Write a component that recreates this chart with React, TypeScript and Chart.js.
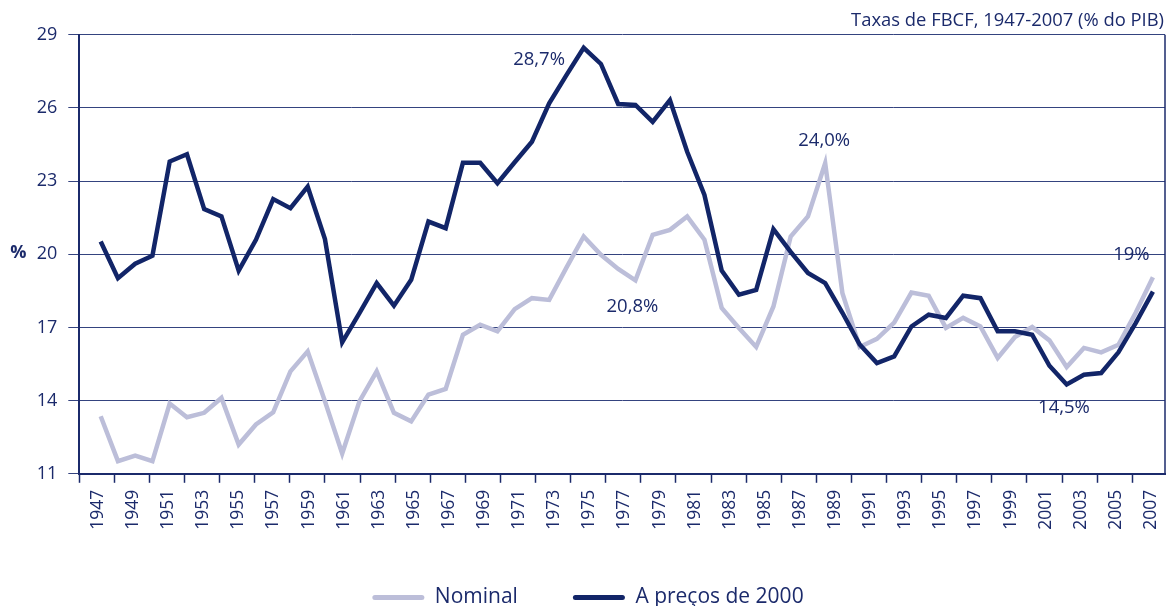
import React, { useEffect, useRef } from 'react';
import { Chart, registerables } from 'chart.js';

Chart.register(...registerables);

// ---- Data ----
const years = [
  1947, 1948, 1949, 1950, 1951, 1952, 1953, 1954, 1955, 1956,
  1957, 1958, 1959, 1960, 1961, 1962, 1963, 1964, 1965, 1966,
  1967, 1968, 1969, 1970, 1971, 1972, 1973, 1974, 1975, 1976,
  1977, 1978, 1979, 1980, 1981, 1982, 1983, 1984, 1985, 1986,
  1987, 1988, 1989, 1990, 1991, 1992, 1993, 1994, 1995, 1996,
  1997, 1998, 1999, 2000, 2001, 2002, 2003, 2004, 2005, 2006,
  2007, 2008,
];

const nominal = [
  13.36, 11.52, 11.75, 11.52, 13.88, 13.32, 13.5, 14.11, 12.2, 13.02,
  13.52, 15.2, 16.02, 13.97, 11.83, 13.97, 15.2, 13.5, 13.15, 14.25,
  14.48, 16.7, 17.11, 16.84, 17.75, 18.2, 18.13, 19.45, 20.73, 19.98,
  19.4, 18.93, 20.8, 21.0, 21.55, 20.6, 17.8, 16.98, 16.2, 17.86,
  20.73, 21.55, 23.73, 18.4, 16.2, 16.53, 17.2, 18.43, 18.3, 16.98,
  17.39, 17.04, 15.75, 16.61, 17.02, 16.47, 15.38, 16.16, 15.98, 16.29,
  17.6, 19.06,
];

const precos2000 = [
  20.52, 19.02, 19.61, 19.94, 23.8, 24.1, 21.85, 21.55, 19.33, 20.59,
  22.26, 21.89, 22.77, 20.62, 16.39, 17.59, 18.82, 17.89, 18.95, 21.34,
  21.07, 23.75, 23.75, 22.91, 23.77, 24.61, 26.19, 27.34, 28.46, 27.8,
  26.16, 26.12, 25.43, 26.32, 24.2, 22.43, 19.33, 18.34, 18.54, 21.03,
  20.1, 19.23, 18.82, 17.6, 16.3, 15.54, 15.81, 17.04, 17.52, 17.39,
  18.3, 18.2, 16.84, 16.84, 16.7, 15.43, 14.66, 15.06, 15.13, 15.98,
  17.18, 18.47,
];

const tickLabels = [
  '1947', '1949', '1951', '1953', '1955', '1957', '1959', '1961', '1963', '1965',
  '1967', '1969', '1971', '1973', '1975', '1977', '1979', '1981', '1983', '1985',
  '1987', '1989', '1991', '1993', '1995', '1997', '1999', '2001', '2003', '2005',
  '2007',
];

const yTickValues = [11, 14, 17, 20, 23, 26, 29];

const seriesNames = ['Nominal', 'A preços de 2000'];
const title = 'Taxas de FBCF, 1947-2007 (% do PIB)';
const yUnit = '%';

// annotation texts anchored to data points (series index, year)
const annotations = [
  { text: '28,7%', series: 1, year: 1975, dx: -18.7, dy: 12.2, align: 'right' },
  { text: '24,0%', series: 0, year: 1989, dx: -1, dy: -23, align: 'center' },
  { text: '20,8%', series: 0, year: 1978, dx: -3, dy: 26, align: 'center' },
  { text: '14,5%', series: 1, year: 2003, dx: -2.7, dy: 23, align: 'center' },
  { text: '19%', series: 0, year: 2008, dx: -21.5, dy: -22.4, align: 'center' },
];

// ---- Style / layout ----
const DARK = '#122568';
const LIGHT = '#bcbed9';
const TEXT = '#1b2a6b';
const GRID = '#34437f';
const AXIS = '#1b2a6b';
const FONT = '"Open Sans", "Noto Sans", sans-serif';

const X_MIN = 1945.76;
const X_MAX = 2008.7;
const TICK_STEP = 2.0348;

export default function App() {
  const canvasRef = useRef<HTMLCanvasElement>(null);

  useEffect(() => {
    const canvas = canvasRef.current;
    if (!canvas) return;
    const seriesData = [nominal, precos2000];

    const overlay = {
      id: 'overlay',
      afterDraw(chart: any) {
        const { ctx, chartArea, scales } = chart;
        ctx.save();
        // right border
        ctx.strokeStyle = AXIS;
        ctx.lineWidth = 1.5;
        ctx.beginPath();
        ctx.moveTo(chartArea.right, chartArea.top);
        ctx.lineTo(chartArea.right, chartArea.bottom);
        ctx.stroke();
        // title
        ctx.fillStyle = TEXT;
        ctx.font = `18.4px ${FONT}`;
        ctx.textAlign = 'right';
        ctx.textBaseline = 'middle';
        ctx.fillText(title, chartArea.right - 1, 20.5);
        // y unit
        ctx.font = `bold 18px ${FONT}`;
        ctx.textAlign = 'center';
        ctx.fillText(yUnit, 18.3, scales.y.getPixelForValue(20) - 1);
        // annotations
        ctx.font = `18.5px ${FONT}`;
        for (const a of annotations) {
          const idx = years.indexOf(a.year);
          const v = seriesData[a.series][idx];
          const px = scales.x.getPixelForValue(a.year) + a.dx;
          const py = scales.y.getPixelForValue(v) + a.dy;
          ctx.textAlign = a.align as CanvasTextAlign;
          ctx.fillText(a.text, px, py);
        }
        ctx.restore();
      },
    };

    const chart = new Chart(canvas, {
      type: 'line',
      data: {
        datasets: [
          {
            label: seriesNames[0],
            data: years.map((yr, i) => ({ x: yr, y: nominal[i] })),
            borderColor: LIGHT,
            backgroundColor: LIGHT,
            borderWidth: 4.5,
            pointRadius: 0,
            tension: 0,
            order: 1,
          },
          {
            label: seriesNames[1],
            data: years.map((yr, i) => ({ x: yr, y: precos2000[i] })),
            borderColor: DARK,
            backgroundColor: DARK,
            borderWidth: 4.5,
            pointRadius: 0,
            tension: 0,
            order: 0,
          },
        ],
      },
      options: {
        responsive: false,
        animation: false,
        devicePixelRatio: 1,
        layout: { padding: { left: 11, right: 3, top: 34.7, bottom: 0 } },
        plugins: {
          tooltip: { enabled: false },
          title: { display: false },
          legend: {
            display: true,
            position: 'bottom',
            labels: {
              boxWidth: 52,
              boxHeight: 5,
              padding: 55,
              color: TEXT,
              font: { family: FONT, size: 21 },
              useBorderRadius: true,
              borderRadius: 2.5,
              sort: (a: any, b: any) => a.datasetIndex - b.datasetIndex,
              generateLabels: (ch: any) =>
                Chart.defaults.plugins.legend.labels
                  .generateLabels(ch)
                  .map((l: any) => ({ ...l, fillStyle: l.strokeStyle, lineWidth: 0 })),
            },
          },
        },
        scales: {
          x: {
            type: 'linear',
            min: X_MIN,
            max: X_MAX,
            afterBuildTicks: (axis: any) => {
              axis.ticks = tickLabels.map((_, k) => ({ value: X_MIN + k * TICK_STEP }));
            },
            afterFit: (s: any) => {
              s.height = 58.2;
            },
            ticks: {
              autoSkip: false,
              minRotation: 90,
              maxRotation: 90,
              labelOffset: 18.7,
              padding: 7,
              color: TEXT,
              font: { family: FONT, size: 17.5 },
              callback: (_v: any, i: number) => tickLabels[i],
            },
            grid: {
              drawOnChartArea: false,
              drawTicks: true,
              tickLength: 9,
              tickColor: AXIS,
              tickWidth: 1.5,
            },
            border: { display: true, color: AXIS, width: 2 },
          },
          y: {
            min: 11,
            max: 29,
            afterBuildTicks: (axis: any) => {
              axis.ticks = yTickValues.map((v) => ({ value: v }));
            },
            afterFit: (s: any) => {
              s.width = 68.3;
            },
            ticks: {
              padding: 11,
              color: TEXT,
              font: { family: FONT, size: 18 },
            },
            grid: {
              color: GRID,
              lineWidth: 1,
              tickLength: 11,
              tickColor: GRID,
            },
            border: { display: true, color: AXIS, width: 2 },
          },
        },
      },
      plugins: [overlay],
    } as any);

    return () => chart.destroy();
  }, []);

  return (
    <div
      style={{
        position: 'fixed',
        left: 0,
        top: 0,
        width: 1168,
        height: 606,
        overflow: 'hidden',
        background: '#ffffff',
      }}
    >
      <canvas ref={canvasRef} width={1168} height={618.5} style={{ display: 'block' }} />
    </div>
  );
}
